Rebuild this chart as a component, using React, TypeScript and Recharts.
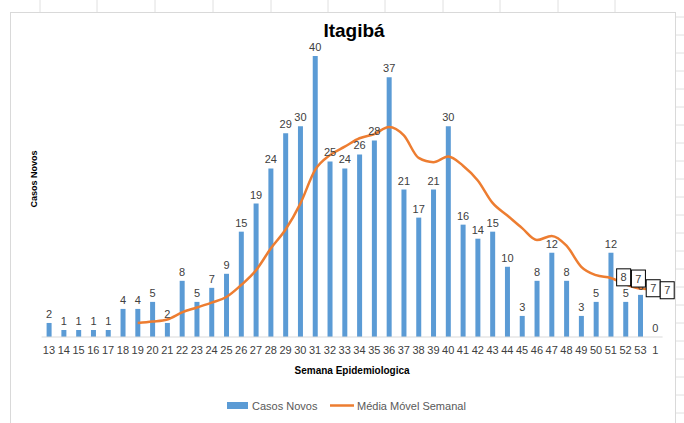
import { Bar, ComposedChart, Label, LabelList, Line, XAxis, YAxis } from "recharts";

const weeks = [
  "13", "14", "15", "16", "17", "18", "19", "20", "21", "22", "23", "24", "25", "26",
  "27", "28", "29", "30", "31", "32", "33", "34", "35", "36", "37", "38", "39", "40",
  "41", "42", "43", "44", "45", "46", "47", "48", "49", "50", "51", "52", "53", "1",
];

const casosNovos = [
  2, 1, 1, 1, 1, 4, 4, 5, 2, 8, 5, 7, 9, 15,
  19, 24, 29, 30, 40, 25, 24, 26, 28, 37, 21, 17, 21, 30,
  16, 14, 15, 10, 3, 8, 12, 8, 3, 5, 12, 5, 6, 0,
];

const mediaMovel = [
  null, null, null, null, null, null, 2.0, 2.2, 2.5, 3.5, 4.2, 4.9, 5.7, 7.4,
  9.5, 12.6, 15.3, 19.0, 23.8, 25.9, 27.1, 28.3, 28.9, 29.9, 28.7, 25.5, 24.9, 25.7,
  24.4, 22.3, 19.1, 17.3, 15.5, 13.8, 14.4, 13.0, 10.0, 8.8, 8.4, 7.5, 6.9, 6.8,
];

// only the last points of the moving average carry a boxed label
const boxOffsets: Record<number, [number, number][]> = {
  39: [[-2, -7]],
  40: [[-2, -10]],
  41: [[-2, -1], [12, 1]],
};

const data = weeks.map((semana, i) => ({
  semana,
  casos: casosNovos[i],
  media: mediaMovel[i],
}));

const FONT = "'Liberation Sans', Arial, sans-serif";

function BoxLabel(props: any) {
  const { x, y, index, value } = props;
  const offsets = boxOffsets[index];
  if (!offsets || value == null) return null;
  return (
    <g>
      {offsets.map(([dx, dy], k) => (
        <g key={k}>
          <rect
            x={x + dx - 7}
            y={y + dy - 8.5}
            width={14}
            height={17}
            fill="#fff"
            stroke="#000"
            strokeWidth={1}
          />
          <text
            x={x + dx}
            y={y + dy + 4}
            textAnchor="middle"
            fontSize={11}
            fill="#404040"
            fontFamily={FONT}
          >
            {Math.round(value)}
          </text>
        </g>
      ))}
    </g>
  );
}

// zero-height bars get no label from the Bar, so draw those from a hidden line
function ZeroLabel(props: any) {
  const { x, y, value } = props;
  if (value !== 0) return null;
  return (
    <text x={x} y={y - 5} textAnchor="middle" fontSize={11} fill="#404040" fontFamily={FONT}>
      0
    </text>
  );
}

const colTicks = [40, 97, 155, 213, 271, 328, 385, 443, 500, 558, 615];
const rowTicks = Array.from({ length: 23 }, (_, i) => 17 + i * 18);

export default function App() {
  return (
    <div
      style={{
        position: "absolute",
        left: 0,
        top: 0,
        width: 684,
        height: 423,
        background: "#fff",
        overflow: "hidden",
        fontFamily: FONT,
      }}
    >
      <svg width={684} height={423} style={{ position: "absolute", left: 0, top: 0 }}>
        {colTicks.map((x) => (
          <line key={x} x1={x} x2={x} y1={0} y2={12} stroke="#e0e0e0" />
        ))}
        {rowTicks.map((y) => (
          <line key={y} x1={676} x2={684} y1={y} y2={y} stroke="#e0e0e0" />
        ))}
        <rect x={10.5} y={12.5} width={665} height={420} fill="#fff" stroke="#d9d9d9" />
        <text
          x={354}
          y={37}
          textAnchor="middle"
          fontSize={19}
          fontWeight="bold"
          fill="#000"
          fontFamily={FONT}
        >
          Itagibá
        </text>
        <rect x={227} y={402} width={21} height={7} fill="#5b9bd5" />
        <text x={252} y={409.5} fontSize={11} fill="#595959" fontFamily={FONT}>
          Casos Novos
        </text>
        <line x1={330} x2={354} y1={405.5} y2={405.5} stroke="#ed7d31" strokeWidth={2.5} />
        <text x={357} y={409.5} fontSize={11} fill="#595959" fontFamily={FONT}>
          Média Móvel Semanal
        </text>
      </svg>
      <div style={{ position: "absolute", left: 0, top: 0 }}>
        <ComposedChart
          width={684}
          height={423}
          data={data}
          margin={{ top: 21, right: 21.4, bottom: 56, left: 26.4 }}
        >
          <XAxis
            dataKey="semana"
            interval={0}
            tickLine={false}
            axisLine={{ stroke: "#d9d9d9" }}
            tick={{ fontSize: 11, fill: "#404040", fontFamily: FONT }}
            tickSize={6}
            tickMargin={3}
            height={30}
          >
            <Label
              value="Semana Epidemiologica"
              position="bottom"
              offset={0}
              style={{ fontSize: 10, fontWeight: "bold", fill: "#000", fontFamily: FONT }}
            />
          </XAxis>
          <YAxis
            domain={[0, 45]}
            width={15.2}
            tick={false}
            tickLine={false}
            axisLine={false}
          >
            <Label
              value="Casos Novos"
              angle={-90}
              position="center"
              style={{ fontSize: 9, fontWeight: "bold", fill: "#000", fontFamily: FONT, textAnchor: "middle" }}
            />
          </YAxis>
          <Bar dataKey="casos" fill="#5b9bd5" barSize={5} isAnimationActive={false}>
            <LabelList
              dataKey="casos"
              position="top"
              offset={5}
              style={{ fontSize: 11, fill: "#404040", fontFamily: FONT }}
            />
          </Bar>
          <Line
            dataKey="casos"
            stroke="none"
            dot={false}
            activeDot={false}
            legendType="none"
            isAnimationActive={false}
            label={<ZeroLabel />}
          />
          <Line
            dataKey="media"
            type="monotone"
            stroke="#ed7d31"
            strokeWidth={2.5}
            dot={false}
            isAnimationActive={false}
            label={<BoxLabel />}
          />
        </ComposedChart>
      </div>
    </div>
  );
}
